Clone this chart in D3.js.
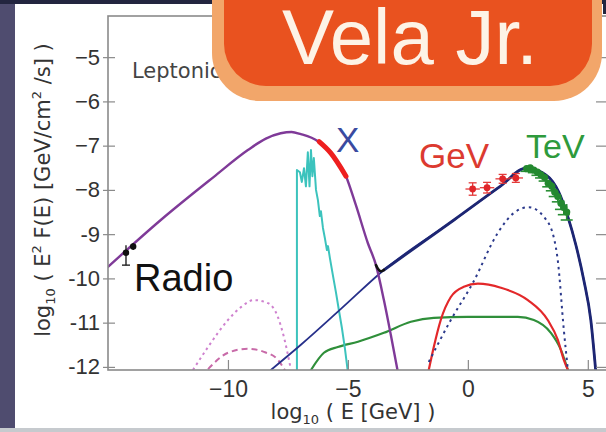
<!DOCTYPE html>
<html>
<head>
<meta charset="utf-8">
<script src="https://cdn.jsdelivr.net/npm/d3@7"></script>
<style>
body { margin: 0; background: #fff; }
svg { display: block; }
</style>
</head>
<body>
<svg></svg>
<script>
'use strict'

const width = 606
const height = 432

// log10(E/GeV) and log10(E^2 F)
const syncE = [-15, -12.8, -10.6, -9.17, -8.42, -7.8, -7.35, -6.96, -6.25, -5.71, -5.08, -4.67, -4.17, -3.83, -3.5, -3.21, -2.92]
const syncF = [-9.74, -8.68, -7.71, -7.1, -6.84, -6.72, -6.69, -6.74, -6.9, -7.17, -7.69, -8.34, -9.2, -9.7, -10.49, -11.28, -12.11]

const xrayE = [-6.2, -5.71, -5.08]
const xrayF = [-6.91, -7.17, -7.69]

const dipE = [-3.83, -3.75, -3.62, -3.5]
const dipF = [-9.7, -9.78, -9.84, -9.81]

const icE = [-8.21, -6.96, -5.29, -3.5, -0.58, 1.375, 2.42, 3.25, 3.79, 4.17, 4.5, 4.83, 5.125, 5.33]
const icF = [-12.07, -11.5, -10.69, -9.81, -8.68, -7.91, -7.51, -7.66, -8.05, -8.61, -9.24, -10.03, -10.94, -12.09]

const dotE = [-1.63, -0.71, 0.21, 1.25, 1.92, 2.54, 3.17, 3.58, 3.75, 4.0, 4.17]
const dotF = [-11.89, -10.94, -10.1, -8.97, -8.52, -8.39, -8.61, -9.07, -9.6, -11.16, -12.07]

const redE = [-1.63, -1.42, -1.13, -0.71, -0.17, 0.42, 1.375, 2.5, 3.33, 3.75, 4.0, 4.17]
const redF = [-12.07, -11.55, -10.94, -10.42, -10.19, -10.12, -10.21, -10.49, -10.94, -11.39, -11.84, -12.07]

const grnE = [-6.54, -6.0, -5.42, -4.58, -3.5, -2.375, -1.42, 0, 2.08, 2.75, 3.46, 3.875, 4.17]
const grnF = [-12.07, -11.68, -11.55, -11.43, -11.23, -10.98, -10.89, -10.87, -10.87, -10.94, -11.23, -11.61, -12.07]

const thermE = [-7.125, -7.125, -7.0, -6.92, -6.83, -6.75, -6.67, -6.6, -6.54, -6.48, -6.42, -6.33, -6.25, -6.17, -6.125, -6.04, -5.96, -5.875, -5.83, -5.75, -5.625, -5.5, -5.375, -5.25, -5.125, -5.0]
const thermF = [-12.12, -7.55, -7.6, -7.82, -7.51, -7.92, -7.15, -7.92, -7.1, -7.69, -7.28, -8.0, -8.23, -8.59, -8.48, -8.86, -9.09, -9.36, -9.27, -9.54, -9.93, -10.31, -10.72, -11.12, -11.58, -12.12]

const pinkDotE = [-11.46, -10.83, -10.0, -9.46, -8.92, -8.33, -7.92, -7.67, -7.38]
const pinkDotF = [-12.07, -11.55, -10.94, -10.65, -10.49, -10.56, -10.87, -11.32, -12.05]

const pinkDashE = [-10.83, -10.0, -9.17, -8.5, -7.92, -7.58]
const pinkDashF = [-12.05, -11.68, -11.59, -11.66, -11.84, -12.12]

const radioE = [-14.25, -13.95]
const radioF = [-9.42, -9.28]
const radioLo = [-9.7, -9.36]
const radioHi = [-9.25, -9.2]

const gevE = [0.2, 0.8, 1.45, 2.0]
const gevF = [-7.98, -7.95, -7.75, -7.73]
const gevErr = [0.14, 0.12, 0.1, 0.1]

const tevE = [2.45, 2.6, 2.75, 2.9, 3.05, 3.2, 3.35, 3.5, 3.62, 3.75, 3.88, 4.0, 4.12]
const tevF = [-7.52, -7.5, -7.55, -7.6, -7.66, -7.72, -7.85, -7.92, -8.05, -8.15, -8.3, -8.4, -8.5]
const tevErr = [0.06, 0.06, 0.06, 0.07, 0.07, 0.08, 0.08, 0.1, 0.1, 0.12, 0.14, 0.16, 0.18]

const yTicks = [-5, -6, -7, -8, -9, -10, -11, -12]
const yTickLabels = ['\u22125', '\u22126', '\u22127', '\u22128', '-9', '-10', '-11', '-12']
const xTicks = [-10, -5, 0, 5]
const xTickLabels = ['\u221210', '\u22125', '0', '5']

const plot = { left: 108, right: 607, top: 16, bottom: 370 }

const svg = d3.select('svg').attr('width', width).attr('height', height)
    .style('font-family', 'DejaVu Sans, sans-serif')

// slide background
svg.append('rect').attr('width', width).attr('height', height).attr('fill', '#ffffff')
svg.append('rect').attr('width', 15).attr('height', height).attr('fill', '#4f4c6f')
svg.append('rect').attr('width', width).attr('height', 4).attr('fill', '#23253f')
svg.append('rect').attr('y', 428).attr('width', width).attr('height', 4).attr('fill', '#c6cace')

const x = d3.scaleLinear().domain([-15, 5.8]).range([plot.left, plot.right])
const y = d3.scaleLinear().domain([-12.07, -4.07]).range([plot.bottom, plot.top])

svg.append('clipPath').attr('id', 'clip')
    .append('rect')
    .attr('x', plot.left).attr('y', plot.top)
    .attr('width', plot.right - plot.left).attr('height', plot.bottom - plot.top)

const zip = (es, fs) => es.map((e, i) => [e, fs[i]])
const smooth = d3.line().x(d => x(d[0])).y(d => y(d[1])).curve(d3.curveMonotoneX)
const straight = d3.line().x(d => x(d[0])).y(d => y(d[1]))

const curves = svg.append('g').attr('clip-path', 'url(#clip)')

function curve(data, color, w, dash, gen) {
    curves.append('path')
        .attr('d', (gen || smooth)(data))
        .attr('fill', 'none')
        .attr('stroke', color)
        .attr('stroke-width', w)
        .attr('stroke-dasharray', dash || null)
        .attr('stroke-linejoin', 'round')
        .attr('stroke-linecap', dash ? 'butt' : 'round')
}

curve(zip(pinkDotE, pinkDotF), '#cf82cf', 2, '2.5,3.5')
curve(zip(pinkDashE, pinkDashF), '#c86aa8', 2, '6,4')
curve(zip(grnE, grnF), '#2f8f3a', 2.2)
curve(zip(redE, redF), '#e3282a', 2.2)
curve(zip(dotE, dotF), '#2c3a8c', 2, '2.5,4')
curve(zip(thermE, thermF), '#3cc3bd', 2, null, straight)
curve(zip(icE, icF), '#27308a', 1.8)
curve(zip(icE, icF).filter(d => d[0] >= -3.5), '#1d2673', 2.8)
curve(zip(syncE, syncF), '#7f3a98', 2.4)
curve(zip(dipE, dipF), '#111111', 2.6)
curve(zip(xrayE, xrayF), '#ee1f1f', 5)

// data points
const pts = svg.append('g').attr('clip-path', 'url(#clip)')

pts.selectAll('.rerr').data(zip(radioE, radioF)).enter().append('line')
    .attr('x1', d => x(d[0])).attr('x2', d => x(d[0]))
    .attr('y1', (d, i) => y(radioLo[i])).attr('y2', (d, i) => y(radioHi[i]))
    .attr('stroke', '#222').attr('stroke-width', 1.4)
pts.append('line')
    .attr('x1', x(radioE[0]) - 4).attr('x2', x(radioE[0]) + 4)
    .attr('y1', y(radioLo[0])).attr('y2', y(radioLo[0]))
    .attr('stroke', '#222').attr('stroke-width', 1.4)
pts.selectAll('.radio').data(zip(radioE, radioF)).enter().append('circle')
    .attr('cx', d => x(d[0])).attr('cy', d => y(d[1])).attr('r', 3.2).attr('fill', '#111')

gevE.forEach((e, i) => {
    const g = pts.append('g').attr('stroke', '#e33a3a').attr('stroke-width', 1.3)
    g.append('line').attr('x1', x(e - 0.3)).attr('x2', x(e + 0.3))
        .attr('y1', y(gevF[i])).attr('y2', y(gevF[i]))
    g.append('line').attr('x1', x(e)).attr('x2', x(e))
        .attr('y1', y(gevF[i] - gevErr[i])).attr('y2', y(gevF[i] + gevErr[i]))
    g.append('line').attr('x1', x(e) - 4).attr('x2', x(e) + 4)
        .attr('y1', y(gevF[i] + gevErr[i])).attr('y2', y(gevF[i] + gevErr[i]))
    g.append('line').attr('x1', x(e) - 4).attr('x2', x(e) + 4)
        .attr('y1', y(gevF[i] - gevErr[i])).attr('y2', y(gevF[i] - gevErr[i]))
})
pts.selectAll('.gev').data(zip(gevE, gevF)).enter().append('circle')
    .attr('cx', d => x(d[0])).attr('cy', d => y(d[1])).attr('r', 3.4).attr('fill', '#e0262a')

tevE.forEach((e, i) => {
    const g = pts.append('g').attr('stroke', '#2a8f35').attr('stroke-width', 1.6)
    g.append('line').attr('x1', x(e - 0.1)).attr('x2', x(e + 0.1))
        .attr('y1', y(tevF[i])).attr('y2', y(tevF[i]))
    g.append('line').attr('x1', x(e)).attr('x2', x(e))
        .attr('y1', y(tevF[i] - tevErr[i])).attr('y2', y(tevF[i] + tevErr[i]))
    g.append('line').attr('x1', x(e) - 6).attr('x2', x(e) + 6)
        .attr('y1', y(tevF[i] - tevErr[i])).attr('y2', y(tevF[i] - tevErr[i]))
})
pts.selectAll('.tev').data(zip(tevE, tevF)).enter().append('circle')
    .attr('cx', d => x(d[0])).attr('cy', d => y(d[1])).attr('r', 3.6).attr('fill', '#23892f')

// axes
const spine = '#8a8a8a'
svg.append('rect')
    .attr('x', plot.left).attr('y', plot.top)
    .attr('width', plot.right - plot.left).attr('height', plot.bottom - plot.top)
    .attr('fill', 'none').attr('stroke', spine).attr('stroke-width', 1.6)

const yAxis = svg.append('g').attr('transform', `translate(${plot.left},0)`)
    .call(d3.axisLeft(y).tickValues(yTicks).tickFormat((d, i) => yTickLabels[i])
        .tickSizeInner(-7).tickSizeOuter(0).tickPadding(8))
yAxis.select('.domain').remove()
yAxis.selectAll('line').attr('stroke', spine).attr('x1', -5).attr('stroke-width', 1.2)
yAxis.selectAll('text').attr('font-size', 22).attr('fill', '#333')

const yAxisR = svg.append('g').attr('transform', `translate(${plot.right},0)`)
    .call(d3.axisRight(y).tickValues(yTicks).tickFormat('').tickSizeInner(-11).tickSizeOuter(0))
yAxisR.select('.domain').remove()
yAxisR.selectAll('line').attr('stroke', spine).attr('stroke-width', 1.2)

const xAxis = svg.append('g').attr('transform', `translate(0,${plot.bottom})`)
    .call(d3.axisBottom(x).tickValues(xTicks).tickFormat((d, i) => xTickLabels[i])
        .tickSizeInner(-10).tickSizeOuter(0).tickPadding(11))
xAxis.select('.domain').remove()
xAxis.selectAll('line').attr('stroke', spine).attr('stroke-width', 1.2)
xAxis.selectAll('text').attr('font-size', 23).attr('fill', '#333')

// axis titles
const xt = svg.append('text').attr('x', 353).attr('y', 419)
    .attr('text-anchor', 'middle').attr('font-size', 21).attr('fill', '#333')
xt.append('tspan').text('log')
xt.append('tspan').text('10').attr('font-size', 13).attr('dy', 5)
xt.append('tspan').text(' ( E [GeV] )').attr('dy', -5)

const yt = svg.append('text').attr('transform', 'translate(50,190) rotate(-90)')
    .attr('text-anchor', 'middle').attr('font-size', 21).attr('fill', '#333')
yt.append('tspan').text('log')
yt.append('tspan').text('10').attr('font-size', 13).attr('dy', 5)
yt.append('tspan').text(' ( E').attr('dy', -5)
yt.append('tspan').text('2').attr('font-size', 13).attr('dy', -9)
yt.append('tspan').text(' F(E) [GeV/cm').attr('dy', 9)
yt.append('tspan').text('2').attr('font-size', 13).attr('dy', -9)
yt.append('tspan').text(' /s] )').attr('dy', 9)

// annotations
svg.append('text').attr('x', 132).attr('y', 78).text('Leptonic')
    .attr('font-size', 21).attr('fill', '#444')
svg.append('text').attr('x', 134).attr('y', 291).text('Radio')
    .attr('font-family', 'Liberation Sans, Arial, sans-serif').attr('font-size', 38).attr('fill', '#111')
svg.append('text').attr('x', 336).attr('y', 152).text('X')
    .attr('font-family', 'Liberation Sans, Arial, sans-serif').attr('font-size', 35).attr('fill', '#3a4aa0')
svg.append('text').attr('x', 419).attr('y', 168).text('GeV')
    .attr('font-family', 'Liberation Sans, Arial, sans-serif').attr('font-size', 35).attr('fill', '#dc3a30')
svg.append('text').attr('x', 526).attr('y', 158).text('TeV')
    .attr('font-family', 'Liberation Sans, Arial, sans-serif').attr('font-size', 34).attr('fill', '#2e9a3c')

// title badge
svg.append('rect').attr('x', 603).attr('y', 0).attr('width', 3).attr('height', 14).attr('fill', '#23253f')
svg.append('rect').attr('x', 212).attr('y', -60).attr('width', 390).attr('height', 161)
    .attr('rx', 48).attr('fill', '#f2a66a')
svg.append('rect').attr('x', 224).attr('y', -60).attr('width', 368).attr('height', 146)
    .attr('rx', 42).attr('fill', '#e9521f')
svg.append('text').attr('x', 282).attr('y', 64).text('Vela Jr.')
    .attr('font-family', 'Liberation Sans, Arial, sans-serif').attr('font-size', 78).attr('fill', '#fdf3e6')
</script>
</body>
</html>
